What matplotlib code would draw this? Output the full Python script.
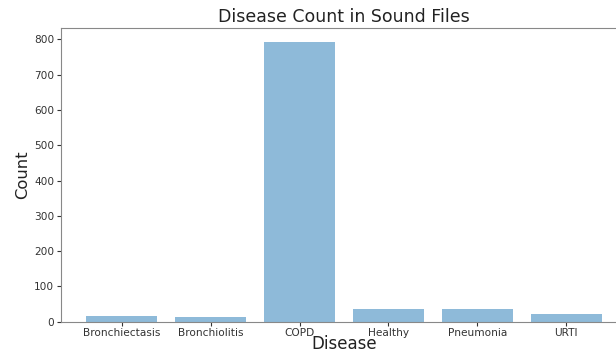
import matplotlib
matplotlib.use("Agg")
import matplotlib.pyplot as plt

diseases = ["Bronchiectasis", "Bronchiolitis", "COPD", "Healthy", "Pneumonia", "URTI"]
counts = [16, 13, 793, 35, 37, 23]
yticks = [0, 100, 200, 300, 400, 500, 600, 700, 800]

fig = plt.figure(figsize=(6.16, 3.54), dpi=100)
ax = fig.add_axes([0.0985, 0.091, 0.92, 0.830])
ax.bar(diseases, counts, color="#1f77b4", alpha=0.5, width=0.8)
ax.set_yticks(yticks)
ax.set_title("Disease Count in Sound Files", fontsize=12.5, color="#222222", pad=4)
ax.set_xlabel("Disease", fontsize=12, color="#222222", labelpad=-2.5)
ax.set_ylabel("Count", fontsize=11.8, color="#222222", labelpad=3)
ax.tick_params(axis="both", labelsize=7.6, colors="#333333", length=3, pad=1.5)
for s in ax.spines.values():
    s.set_color("#888888")
fig.savefig("out.png", dpi=100)
